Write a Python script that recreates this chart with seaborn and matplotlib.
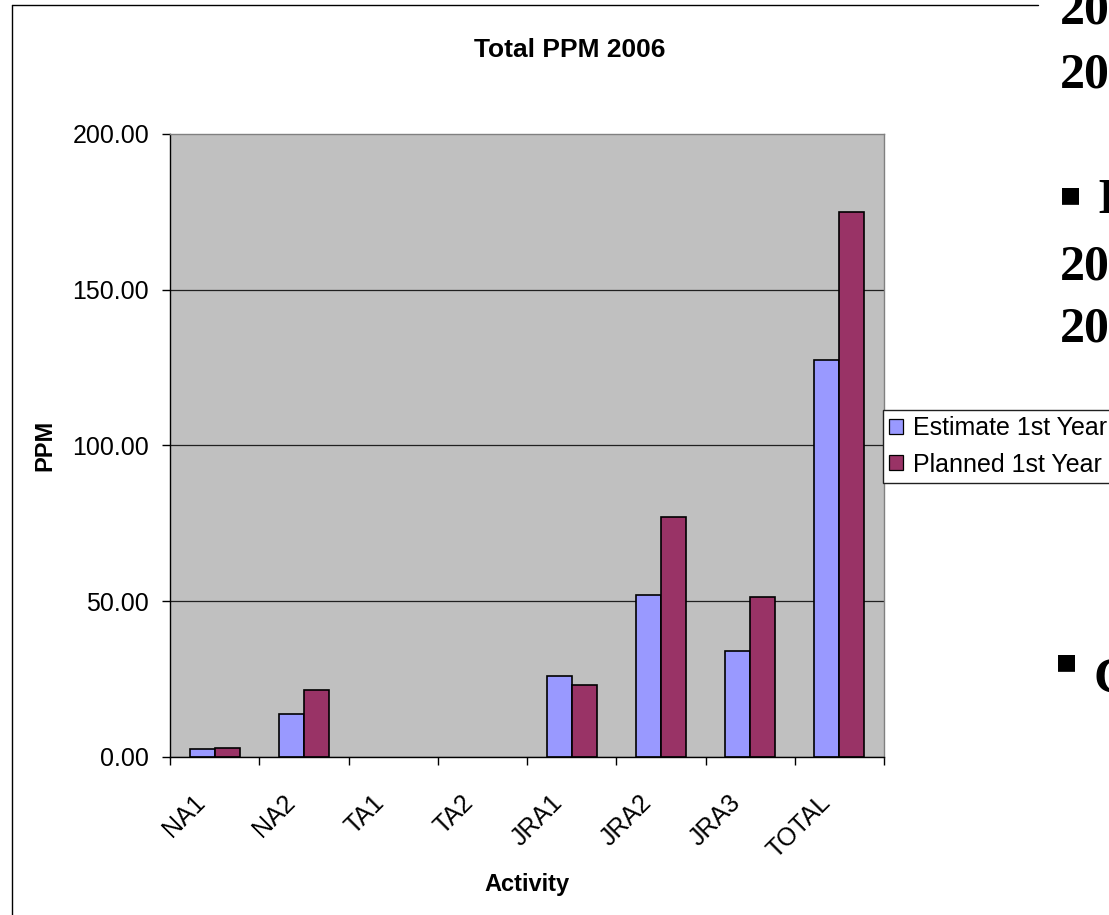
import numpy as np
import pandas as pd
import matplotlib.pyplot as plt
import seaborn as sns
from matplotlib.lines import Line2D
from matplotlib.transforms import ScaledTranslation

# Values
activities = ['NA1', 'NA2', 'TA1', 'TA2', 'JRA1', 'JRA2', 'JRA3', 'TOTAL']
estimate = [2.5, 13.8, 0, 0, 26.1, 51.9, 34.1, 127.4]
planned = [3.0, 21.4, 0, 0, 23.1, 77.0, 51.4, 174.9]
series_names = ['Estimate 1st Year', 'Planned 1st Year']
bar_colors = ['#9999FF', '#993366']
y_ticks = [0, 50, 100, 150, 200]

df = pd.DataFrame({
    'Activity': activities * 2,
    'PPM': estimate + planned,
    'Series': [series_names[0]] * len(activities) + [series_names[1]] * len(activities),
})

sns.set_style('white')
plt.rcParams['font.family'] = ['Liberation Sans', 'DejaVu Sans']
plt.rcParams['text.color'] = 'black'
plt.rcParams['axes.labelcolor'] = 'black'
plt.rcParams['xtick.color'] = 'black'
plt.rcParams['ytick.color'] = 'black'

W, H = 1109, 915
fig = plt.figure(figsize=(W / 100, H / 100), dpi=100)
ax = fig.add_axes([170 / W, (H - 757) / H, 714 / W, 623 / H])
ax.set_facecolor('#C0C0C0')

sns.barplot(data=df, x='Activity', y='PPM', hue='Series', palette=bar_colors,
            width=0.56, gap=0, saturation=1, edgecolor='black', linewidth=1.2,
            errorbar=None, ax=ax)

# empty bars (TA1, TA2) show nothing in the original
for bar in ax.patches:
    if bar.get_height() == 0:
        bar.set_linewidth(0)

ax.set_xlim(-0.5, len(activities) - 0.5)
ax.set_ylim(0, 200)
ax.set_yticks(y_ticks)
ax.set_yticklabels([f'{v:.2f}' for v in y_ticks])
ax.yaxis.grid(True, color='#202020', linewidth=0.9)
ax.set_axisbelow(True)
ax.get_ygridlines()[-1].set_visible(False)

for side in ['left', 'bottom']:
    ax.spines[side].set_color('black')
    ax.spines[side].set_linewidth(1)
for side in ['top', 'right']:
    ax.spines[side].set_color('#808080')
    ax.spines[side].set_linewidth(1)

ax.tick_params(axis='y', left=True, direction='out', length=6, width=1,
               labelsize=18, pad=9)
ax.set_xticks(np.arange(len(activities) + 1) - 0.5, minor=True)
ax.tick_params(axis='x', which='minor', bottom=True, direction='out',
               length=6, width=1)
ax.tick_params(axis='x', which='major', bottom=True, length=0,
               labelsize=18, pad=30)
for lab in ax.get_xticklabels():
    lab.set_rotation(45)
    lab.set_ha('right')
    lab.set_va('center')
    lab.set_rotation_mode('anchor')
    lab.set_transform(lab.get_transform() + ScaledTranslation(-0.13, 0, fig.dpi_scale_trans))

ax.set_xlabel('Activity', fontsize=17, fontweight='bold')
ax.xaxis.set_label_coords(0.5, (757 - 885) / 623)
ax.xaxis.label.set_va('center')
ax.set_ylabel('PPM', fontsize=17, fontweight='bold')
ax.yaxis.set_label_coords((45 - 170) / 714, 0.5)
ax.yaxis.label.set_va('center')

fig.text(570 / W, 1 - 50 / H, 'Total PPM 2006', ha='center', va='center',
         fontsize=19, fontweight='bold')

# legend, running past the right edge of the picture
handles, labels = ax.get_legend_handles_labels()
leg = ax.legend(handles, labels, loc='upper left', mode='expand',
                bbox_to_anchor=(883 / W, 1 - 410 / H, 260 / W, 0),
                bbox_transform=fig.transFigure,
                fontsize=18, frameon=True, fancybox=False, framealpha=1,
                edgecolor='#202020', borderaxespad=0, borderpad=0.25,
                handlelength=0.55, handleheight=0.55, handletextpad=0.4,
                labelspacing=0.5)
leg.get_frame().set_linewidth(1)
for p in leg.get_patches():
    p.set_edgecolor('black')
    p.set_linewidth(0.9)

# chart area frame
fig.add_artist(Line2D([12 / W, 12 / W], [0, 1 - 5 / H], color='black', lw=1,
                      transform=fig.transFigure))
fig.add_artist(Line2D([12 / W, 1038 / W], [1 - 5 / H, 1 - 5 / H], color='black',
                      lw=1, transform=fig.transFigure))

# slide text behind the chart, cut by the picture edge
serif = dict(fontsize=36, fontweight='bold', family='Liberation Serif', va='baseline')
for base in [23, 87, 280, 342]:
    fig.text(1060 / W, 1 - base / H, '20', **serif)
fig.text(1060 / W, 1 - 201 / H, '\u25a0', fontsize=16, family='DejaVu Sans', va='baseline')
fig.text(1097 / W, 1 - 213 / H, 'I', **serif)
fig.text(1056 / W, 1 - 668 / H, '\u25a0', fontsize=16, family='DejaVu Sans', va='baseline')
fig.text(1093 / W, 1 - 692 / H, 'C', **serif)

fig.savefig('out.png', dpi=100, facecolor='white')
